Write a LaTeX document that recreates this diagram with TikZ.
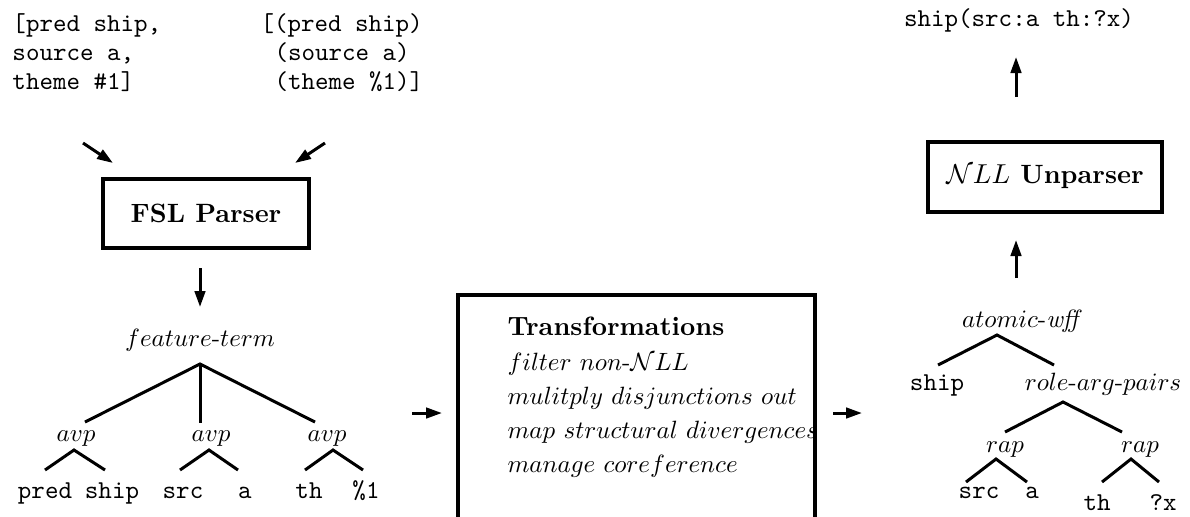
\documentclass[tikz,border=0pt]{standalone}
\usetikzlibrary{arrows.meta}
\newcommand\ttsz{\fontsize{10.3}{12}\selectfont\ttfamily}
\newcommand\bfsz{\fontsize{10.6}{12.7}\selectfont\bfseries}
\begin{document}
\begin{tikzpicture}[x=0.4pt,y=-0.4pt,
  tt/.style={font=\ttsz, inner sep=0pt, anchor=base west},
  ttc/.style={font=\ttsz, inner sep=0pt, anchor=base},
  lbl/.style={inner sep=0pt, anchor=base},
  txl/.style={inner sep=0pt, anchor=base west},
  br/.style={line width=1.2pt},
  arr/.style={line width=1.2pt, -{Triangle[length=6.4pt,width=4.2pt]}},
  boxnode/.style={draw, line width=1.6pt, inner sep=0pt, font=\bfsz}]
\useasboundingbox (0,0) rectangle (1190,516);

% input texts
\node[tt] (l1) at (12,31) {[pred ship,};
\node[tt] (l2) at (12,60) {source a,};
\node[tt] (l3) at (12,89) {theme \#1]};
\node[tt] (r1) at (260,31) {[(pred ship)};
\node[tt] (r2) at (274,60) {(source a)};
\node[tt] (r3) at (274,89) {(theme \%1)]};

% FSL parser
\node[boxnode, minimum width=82.4pt, minimum height=27.6pt] (fsl) at (206,213.5) {FSL Parser};
\coordinate (inL) at (83,143);
\coordinate (inLt) at (113,163);
\coordinate (inR) at (325,143);
\coordinate (inRt) at (295,163);
\draw[arr] (inL) -- (inLt);
\draw[arr] (inR) -- (inRt);
\coordinate (fslo) at (200,268);
\coordinate (fslot) at (200,307);
\draw[arr] (fslo) -- (fslot);

% left tree
\node[lbl] (ft) at (200,346) {$feature$-$term$};
\node[lbl] (avp1) at (76,441) {$avp$};
\node[lbl] (avp2) at (211,441) {$avp$};
\node[lbl] (avp3) at (327,441) {$avp$};
\coordinate (ftp) at (200,364);
\coordinate (e1) at (85,422);
\coordinate (e2) at (200,423);
\coordinate (e3) at (315,422);
\draw[br] (e1) -- (ftp) -- (e3);
\draw[br] (ftp) -- (e2);

\node[ttc] (k1) at (45,498) {pred};
\node[ttc] (k2) at (112,498) {ship};
\node[ttc] (k3) at (183,498) {src};
\node[ttc] (k4) at (245,498) {a};
\node[ttc] (k5) at (309,498) {th};
\node[ttc] (k6) at (366,498) {\%1};
\coordinate (p1) at (74,450);
\coordinate (p2) at (209,450);
\coordinate (p3) at (333,450);
\draw[br] (45,470) coordinate (a1) -- (p1) -- (105,470) coordinate (b1);
\draw[br] (180,470) coordinate (a2) -- (p2) -- (238,470) coordinate (b2);
\draw[br] (305,470) coordinate (a3) -- (p3) -- (363,470) coordinate (b3);

% transformations
\coordinate (tin) at (412,413);
\coordinate (tint) at (442,413);
\draw[arr] (tin) -- (tint);
\draw[line width=1.6pt] (458,520) -- (458,295) -- (815,295) -- (815,520);
\node[txl, font=\bfsz] (tr0) at (507,335) {Transformations};
\node[txl] (tr1) at (507,370) {$filter$ $non$-$\mathcal{N}LL$};
\node[txl] (tr2) at (507,404) {$mulitply$ $disjunctions$ $out$};
\node[txl] (tr3) at (507,438) {$map$ $structural$ $divergences$};
\node[txl] (tr4) at (507,472) {$manage$ $coreference$};
\coordinate (tout) at (833,413);
\coordinate (toutt) at (862,413);
\draw[arr] (tout) -- (toutt);

% right tree
\node[lbl] (aw) at (1022,327) {$atomic$-\textit{wff}};
\node[ttc] (sh) at (937,390) {ship};
\node[lbl] (rap0) at (1103,390) {$role$-$arg$-$pairs$};
\node[lbl] (rap1) at (1005,452) {$rap$};
\node[lbl] (rap2) at (1140,452) {$rap$};
\node[ttc] (m1) at (979,498) {src};
\node[ttc] (m2) at (1032,498) {a};
\node[ttc] (m3) at (1097,510) {th};
\node[ttc] (m4) at (1163,510) {?x};
\coordinate (q0) at (997,335);
\coordinate (q1) at (1063,402);
\coordinate (q2) at (996,459);
\coordinate (q3) at (1131,459);
\draw[br] (938,365) coordinate (c0) -- (q0) -- (1054,365) coordinate (d0);
\draw[br] (1005,432) coordinate (c1) -- (q1) -- (1122,432) coordinate (d1);
\draw[br] (966,482) coordinate (c2) -- (q2) -- (1027,482) coordinate (d2);
\draw[br] (1102,482) coordinate (c3) -- (q3) -- (1159,482) coordinate (d3);

% unparser
\coordinate (uin) at (1016,278);
\coordinate (uint) at (1016,240);
\draw[arr] (uin) -- (uint);
\node[boxnode, minimum width=93.6pt, minimum height=28pt] (unp) at (1045,177) {$\mathcal{N}LL$ Unparser};
\coordinate (uout) at (1016,97);
\coordinate (uoutt) at (1016,57);
\draw[arr] (uout) -- (uoutt);
\node[ttc] (res) at (1019,26) {ship(src:a th:?x)};
\end{tikzpicture}
\end{document}
